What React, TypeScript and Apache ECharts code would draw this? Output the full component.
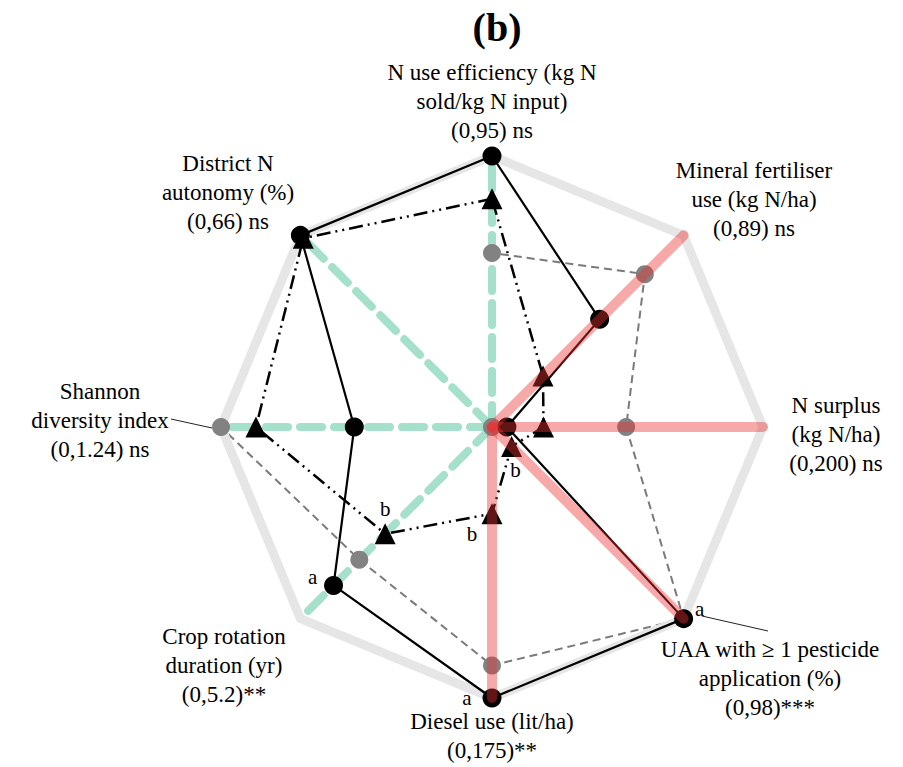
import React, { useEffect, useRef } from 'react';
import * as echarts from 'echarts';

// Indicators in ECharts order (counter-clockwise from the top)
const indicatorNames = [
  'N use efficiency',
  'District N autonomy',
  'Shannon diversity index',
  'Crop rotation duration',
  'Diesel use',
  'UAA with ≥ 1 pesticide application',
  'N surplus',
  'Mineral fertiliser use',
];
const indicatorMax = [95, 66, 1.24, 5.2, 175, 98, 200, 89];
// true = green dashed axis, false = red solid axis
const greenAxis = [true, true, true, true, false, false, false, false];

const axisLabelTexts = [
  'N use efficiency (kg N\nsold/kg N input)\n(0,95) ns',
  'District N\nautonomy (%)\n(0,66) ns',
  'Shannon\ndiversity index\n(0,1.24) ns',
  'Crop rotation\nduration (yr)\n(0,5.2)**',
  'Diesel use (lit/ha)\n(0,175)**',
  'UAA with ≥ 1 pesticide\napplication (%)\n(0,98)***',
  'N surplus\n(kg N/ha)\n(0,200) ns',
  'Mineral fertiliser\nuse (kg N/ha)\n(0,89) ns',
];

// Series values (same order as indicators); grey District N value missing (plotted at 0)
const solidCircleValues = [95, 66, 0.63, 4.3, 175, 98, 11, 50];
const triangleValues = [80, 65, 1.08, 2.9, 56, 10, 38, 23.7];
const greyValues = [61, 0, 1.24, 3.6, 154, 98, 99, 71];

// Letter annotations: which series, which indicator
const letterAnnotations = [
  { text: 'a', series: 'solid', dim: 5 },
  { text: 'a', series: 'solid', dim: 3 },
  { text: 'a', series: 'solid', dim: 4 },
  { text: 'b', series: 'triangle', dim: 5 },
  { text: 'b', series: 'triangle', dim: 4 },
  { text: 'b', series: 'triangle', dim: 3 },
];

// layout (positions only)
const CENTER = [492, 427];
const RADIUS = 271;
const letterOffsets = [
  [16, -10],
  [-21, -8],
  [-25, 0],
  [4, 23],
  [-20, 20],
  [0, -25],
];
const labelLayout = [
  [492, 101],
  [228, 192],
  [100, 420],
  [224, 665],
  [492, 736],
  [770, 678],
  [836, 434],
  [754, 199],
];

const FONT = '"Liberation Serif", "Times New Roman", serif';

export default function App() {
  const ref = useRef<HTMLDivElement>(null);
  useEffect(() => {
    const chart = echarts.init(ref.current!, null, { renderer: 'svg' });
    const seriesMap: Record<string, number[]> = { solid: solidCircleValues, triangle: triangleValues };

    const makeRadar = (z: number, axisStyle: (i: number) => any, splitLine: any) => ({
      center: CENTER,
      radius: RADIUS,
      startAngle: 90,
      splitNumber: 1,
      shape: 'polygon',
      indicator: indicatorNames.map((n, i) => ({
        name: n,
        max: indicatorMax[i],
        min: 0,
        axisLine: axisStyle(i),
      })),
      axisName: { show: false },
      axisLine: { show: true },
      axisTick: { show: false },
      axisLabel: { show: false },
      splitLine,
      splitArea: { show: false },
      silent: true,
      z,
    });

    const option: any = {
      animation: false,
      backgroundColor: '#ffffff',
      title: {
        text: '(b)',
        left: CENTER[0],
        top: 2,
        textAlign: 'center',
        textStyle: { fontFamily: FONT, fontWeight: 'bold', fontSize: 40, color: '#000' },
      },
      radar: [
        // 0: white mask under green axes (hides the grey line running along them)
        makeRadar(
          2,
          (i) => (greenAxis[i] ? { show: true, lineStyle: { color: '#ffffff', width: 8, type: 'solid' } } : { show: false }),
          { show: false }
        ),
        // 1: grey outer octagon
        makeRadar(3, () => ({ show: false }), {
          show: true,
          lineStyle: { color: ['rgba(0,0,0,0)', '#e6e6e6'], width: 9 },
        }),
        // 2: green dashed axes
        makeRadar(
          4,
          (i) =>
            greenAxis[i]
              ? { show: true, lineStyle: { color: 'rgba(40,180,130,0.42)', width: 8, type: [22, 12] } }
              : { show: false },
          { show: false }
        ),
        // 3: red axes above the series
        makeRadar(
          10,
          (i) =>
            !greenAxis[i]
              ? { show: true, lineStyle: { color: 'rgba(235,50,50,0.42)', width: 10, type: 'solid' } }
              : { show: false },
          { show: false }
        ),
      ],
      series: [
        {
          type: 'radar',
          radarIndex: 0,
          z: 1,
          silent: true,
          symbol: 'none',
          lineStyle: { color: '#7a7a7a', width: 2, type: [8, 5] },
          data: [{ value: greyValues, name: 'grey line' }],
        },
        {
          type: 'radar',
          radarIndex: 0,
          z: 5,
          silent: true,
          symbol: 'circle',
          symbolSize: 18,
          lineStyle: { opacity: 0, width: 0 },
          itemStyle: { color: '#828282' },
          data: [{ value: greyValues, name: 'grey' }],
        },
        {
          type: 'radar',
          radarIndex: 0,
          z: 6,
          silent: true,
          symbol: 'triangle',
          symbolSize: 21,
          lineStyle: { color: '#000', width: 2.5, type: [14, 5, 2, 5, 2, 5] },
          itemStyle: { color: '#000' },
          data: [{ value: triangleValues, name: 'triangle' }],
        },
        {
          type: 'radar',
          radarIndex: 0,
          z: 7,
          silent: true,
          symbol: 'circle',
          symbolSize: 19,
          lineStyle: { color: '#000', width: 2.2, type: 'solid' },
          itemStyle: { color: '#000' },
          data: [{ value: solidCircleValues, name: 'solid' }],
        },
        {
          type: 'radar',
          radarIndex: 0,
          z: 12,
          silent: true,
          symbol: 'circle',
          symbolSize: 2,
          lineStyle: { opacity: 0, width: 0 },
          itemStyle: { color: 'rgba(0,0,0,0)' },
          data: letterAnnotations.map((a, k) => {
            const src = seriesMap[a.series];
            const target = src[a.dim];
            return {
              value: src.map((v, i) => (i === a.dim ? v : 0)),
              label: {
                show: true,
                position: 'inside',
                offset: letterOffsets[k],
                color: '#000',
                fontFamily: FONT,
                fontSize: 21,
                formatter: (p: any) => (p.value === target && target > 0 ? a.text : ''),
              },
            };
          }),
        },
      ],
      graphic: [
        ...axisLabelTexts.map((t, i) => ({
          type: 'text',
          x: labelLayout[i][0],
          y: labelLayout[i][1],
          z: 20,
          style: {
            text: t,
            fill: '#000',
            fontFamily: FONT,
            fontSize: 23,
            lineHeight: 29,
            align: 'center',
            verticalAlign: 'middle',
          },
        })),
        {
          type: 'line',
          z: 20,
          shape: { x1: 171, y1: 419, x2: 212, y2: 428 },
          style: { stroke: '#222', lineWidth: 1 },
        },
        {
          type: 'line',
          z: 20,
          shape: { x1: 702, y1: 616, x2: 768, y2: 631 },
          style: { stroke: '#222', lineWidth: 1 },
        },
      ],
    };
    chart.setOption(option);
    return () => chart.dispose();
  }, []);
  return (
    <div
      ref={ref}
      style={{ position: 'absolute', left: 0, top: 0, width: 903, height: 767, background: '#fff' }}
    />
  );
}
